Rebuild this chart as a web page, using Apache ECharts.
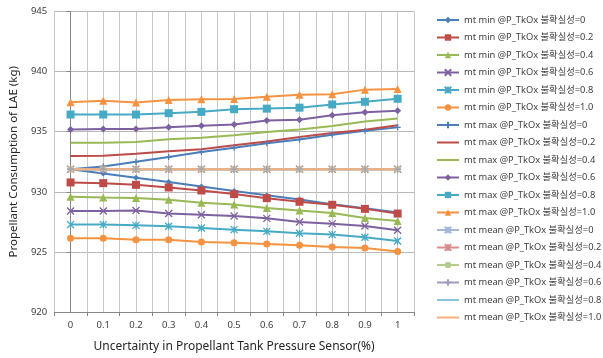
<!DOCTYPE html>
<html><head><meta charset="utf-8">
<script src="https://cdn.jsdelivr.net/npm/echarts@6/dist/echarts.min.js"></script>
<style>html,body{margin:0;padding:0;background:#fff}#c{width:603px;height:358px}</style>
</head><body><div id="c"></div>
<script>
const categories = ['0','0.1','0.2','0.3','0.4','0.5','0.6','0.7','0.8','0.9','1'];
const yTicks = [920, 925, 930, 935, 940, 945];

const minU0  = [931.88,931.53,931.17,930.81,930.44,930.06,929.72,929.36,928.97,928.64,928.28];
const minU02 = [930.78,930.72,930.58,930.36,930.11,929.81,929.47,929.17,928.92,928.58,928.19];
const minU04 = [929.59,929.53,929.48,929.34,929.09,928.95,928.65,928.45,928.23,927.82,927.57];
const minU06 = [928.40,928.40,928.45,928.20,928.09,927.98,927.79,927.49,927.35,927.15,926.80];
const minU08 = [927.27,927.27,927.21,927.13,926.99,926.85,926.71,926.55,926.44,926.22,925.91];
const minU10 = [926.13,926.13,926.02,926.02,925.83,925.77,925.66,925.55,925.41,925.33,925.03];

const maxU0  = [931.88,932.11,932.50,932.89,933.31,933.67,934.03,934.36,934.75,935.08,935.36];
const maxU02 = [932.97,933.00,933.16,933.38,933.54,933.87,934.19,934.56,934.89,935.17,935.53];
const maxU04 = [934.09,934.09,934.15,934.37,934.50,934.70,934.97,935.19,935.47,935.85,936.10];
const maxU06 = [935.19,935.22,935.22,935.38,935.49,935.60,935.93,935.99,936.37,936.62,936.75];
const maxU08 = [936.43,936.43,936.43,936.54,936.65,936.87,936.92,937.00,937.27,937.49,937.74];
const maxU10 = [937.44,937.58,937.42,937.64,937.70,937.72,937.90,938.07,938.12,938.50,938.56];

const meanU0  = [931.88,931.88,931.88,931.88,931.88,931.88,931.88,931.88,931.88,931.88,931.88];
const meanU02 = [931.88,931.88,931.88,931.88,931.88,931.88,931.88,931.88,931.88,931.88,931.88];
const meanU04 = [931.88,931.88,931.88,931.88,931.88,931.88,931.88,931.88,931.88,931.88,931.88];
const meanU06 = [931.88,931.88,931.88,931.88,931.88,931.88,931.88,931.88,931.88,931.88,931.88];
const meanU08 = [931.88,931.88,931.88,931.88,931.88,931.88,931.88,931.88,931.88,931.88,931.88];
const meanU10 = [931.88,931.88,931.88,931.88,931.88,931.88,931.88,931.88,931.88,931.88,931.88];

const X = 'path://M0,0L10,10M0,10L10,0';
const AST = 'path://M0,0L10,10M0,10L10,0M5,0L5,10';
const PLUS = 'path://M5,0L5,10M0,5L10,5';
const DASH = 'path://M0,5L10,5M5,2L5,8';
const LINE_ICON = 'path://M0,0L0.01,0L0,0.01ZM0,3L22,3L22,5L0,5ZM22,8L21.99,8L22,7.99Z';

function s(name, data, color, symbol, size, width) {
  const none = symbol === 'none';
  return {
    name, type: 'line', data,
    xAxisIndex: 0, yAxisIndex: 0,
    symbol: none ? 'none' : symbol,
    showSymbol: !none,
    symbolSize: size,
    lineStyle: { color, width: width || 2 },
    itemStyle: { color, borderColor: color, borderWidth: symbol.startsWith('path') ? 1.3 : 0 },
    emphasis: { disabled: true },
    animation: false
  };
}

const series = [
  s('mt min @P_TkOx 불확실성=0', minU0, '#4A7EBB', 'diamond', 6),
  s('mt min @P_TkOx 불확실성=0.2', minU02, '#BE4B48', 'rect', 8),
  s('mt min @P_TkOx 불확실성=0.4', minU04, '#98B954', 'triangle', 8),
  s('mt min @P_TkOx 불확실성=0.6', minU06, '#7D60A0', X, 7),
  s('mt min @P_TkOx 불확실성=0.8', minU08, '#46AAC5', AST, 7),
  s('mt min @P_TkOx 불확실성=1.0', minU10, '#F69240', 'circle', 7),
  s('mt max @P_TkOx 불확실성=0', maxU0, '#4A7EBB', DASH, 6),
  s('mt max @P_TkOx 불확실성=0.2', maxU02, '#BE4B48', 'none', 0),
  s('mt max @P_TkOx 불확실성=0.4', maxU04, '#98B954', 'none', 0),
  s('mt max @P_TkOx 불확실성=0.6', maxU06, '#7D60A0', 'diamond', 7),
  s('mt max @P_TkOx 불확실성=0.8', maxU08, '#46AAC5', 'rect', 8),
  s('mt max @P_TkOx 불확실성=1.0', maxU10, '#F69240', 'triangle', 8),
  s('mt mean @P_TkOx 불확실성=0', meanU0, '#A5B6DA', AST, 7),
  s('mt mean @P_TkOx 불확실성=0.2', meanU02, '#D98C8A', AST, 7),
  s('mt mean @P_TkOx 불확실성=0.4', meanU04, '#B5CC8C', 'circle', 6),
  s('mt mean @P_TkOx 불확실성=0.6', meanU06, '#A99BC0', PLUS, 7),
  s('mt mean @P_TkOx 불확실성=0.8', meanU08, '#86C3D9', 'none', 0),
  s('mt mean @P_TkOx 불확실성=1.0', meanU10, '#F7B07A', 'none', 0)
];

const chart = echarts.init(document.getElementById('c'), null, { renderer: 'canvas' });
chart.setOption({
  animation: false,
  backgroundColor: '#fff',
  grid: { left: 53, right: 189, top: 11.5, bottom: 42.3, containLabel: false },
  legend: {
    orient: 'vertical', left: 436, top: 14, padding: 0,
    itemWidth: 22, itemHeight: 8, itemGap: 5.5,
    textStyle: { fontSize: 9.3, color: '#404040', fontFamily: "'Noto Sans','Noto Sans CJK KR',sans-serif", lineHeight: 12 },
    data: series.map(x => x.symbol === 'none' ? { name: x.name, icon: LINE_ICON } : x.name)
  },
  xAxis: [
    {
      type: 'category', data: categories, boundaryGap: true,
      name: 'Uncertainty in Propellant Tank Pressure Sensor(%)',
      nameLocation: 'middle', nameGap: 29,
      nameTextStyle: { fontSize: 12, color: '#262626', fontFamily: "'Noto Sans',sans-serif" },
      axisLine: { lineStyle: { color: '#868686', width: 1 } },
      axisTick: { show: true, interval: 0, length: 4, lineStyle: { color: '#868686' } },
      axisLabel: { fontSize: 9.5, color: '#404040', margin: 8, interval: 0, fontFamily: "'Noto Sans',sans-serif" },
      splitLine: { show: false }
    },
    {
      type: 'value', min: -0.5, max: 10.5, interval: 0.5, show: true,
      position: 'top',
      axisLine: { show: false }, axisTick: { show: false }, axisLabel: { show: false },
      splitLine: { show: true, lineStyle: { color: '#C8C8C8', width: 1 } }
    }
  ],
  yAxis: {
    type: 'value', min: 920, max: 945, interval: 5,
    name: 'Propellant Consumption of LAE (kg)',
    nameLocation: 'middle', nameGap: 31,
    nameTextStyle: { fontSize: 11.5, color: '#262626', fontFamily: "'Noto Sans',sans-serif" },
    axisLine: { show: true, lineStyle: { color: '#868686', width: 1 } },
    axisTick: { show: true, length: 4, lineStyle: { color: '#868686' } },
    axisLabel: { fontSize: 9.5, color: '#404040', margin: 7, fontFamily: "'Noto Sans',sans-serif",
      formatter: v => yTicks.includes(v) ? String(v) : '' },
    splitLine: { show: true, lineStyle: { color: '#B8B8B8', width: 1 } }
  },
  series
});
</script></body></html>
